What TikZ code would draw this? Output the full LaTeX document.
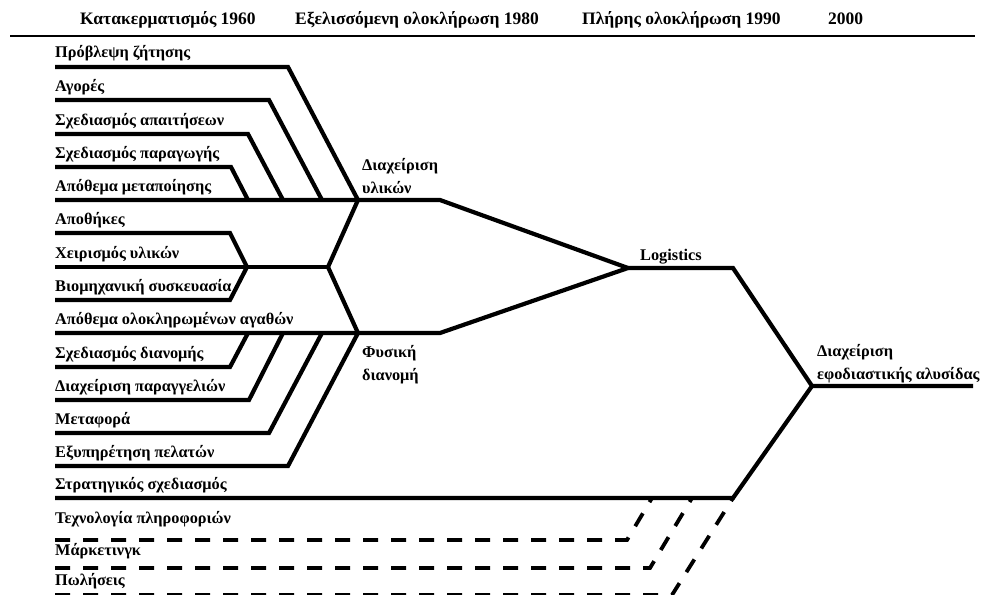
\documentclass[tikz,border=0pt]{standalone}
\usepackage{fontspec}
\setmainfont{Liberation Serif}
\tikzset{
  branch/.style={line width=4.2pt, line join=miter},
  side/.style={line width=3.8pt, dash pattern=on 15pt off 13pt},
  lab/.style={anchor=base west, inner sep=0pt, align=left,
    font=\fontsize{16.3}{22.5}\selectfont\bfseries},
  period/.style={lab, font=\fontsize{17.5}{21}\selectfont\bfseries},
}
\begin{document}
\begin{tikzpicture}[x=1pt, y=-1pt]
    \useasboundingbox (0,0) rectangle (990,594);
    % periods
    \node[period] (p60) at (80,25) {Κατακερματισμός 1960};
    \node[period] (p80) at (295,25) {Εξελισσόμενη ολοκλήρωση 1980};
    \node[period] (p90) at (582,25) {Πλήρης ολοκλήρωση 1990};
    \node[period] (p00) at (828,25) {2000};
    \coordinate (hl) at (10,36);
    \coordinate (hr) at (975,36);
    \draw[line width=1.4pt] (hl) -- (hr);
    % junctions
    \coordinate (mu) at (358,200);
    \coordinate (mur) at (440,200);
    \coordinate (mid) at (328,267);
    \coordinate (ml) at (247,267);
    \coordinate (fd) at (358,333);
    \coordinate (fdr) at (440,333);
    \coordinate (lg) at (628,268);
    \coordinate (lgr) at (733,268);
    \coordinate (sc) at (812,386);
    \coordinate (scr) at (973,386);
    \coordinate (ssr) at (733,498);
    % materials management
    \node[lab] (pz) at (55,58) {Πρόβλεψη ζήτησης};
    \node[lab] (ag) at (55,91) {Αγορές};
    \node[lab] (sa) at (55,125) {Σχεδιασμός απαιτήσεων};
    \node[lab] (sp) at (55,158) {Σχεδιασμός παραγωγής};
    \node[lab] (am) at (55,191) {Απόθεμα μεταποίησης};
    \coordinate (pz0) at (55,67);   \coordinate (pz1) at (288,67);
    \coordinate (ag0) at (55,100);  \coordinate (ag1) at (269,100); \coordinate (ag2) at (322,200);
    \coordinate (sa0) at (55,134);  \coordinate (sa1) at (248,134); \coordinate (sa2) at (283,200);
    \coordinate (sp0) at (55,167);  \coordinate (sp1) at (231,167); \coordinate (sp2) at (248,200);
    \coordinate (am0) at (55,200);
    \draw[branch] (pz0) -- (pz1) -- (mu);
    \draw[branch] (ag0) -- (ag1) -- (ag2);
    \draw[branch] (sa0) -- (sa1) -- (sa2);
    \draw[branch] (sp0) -- (sp1) -- (sp2);
    \draw[branch] (am0) -- (mu) -- (mur) -- (lg);
    \node[lab] (dul) at (362,193) {Διαχείριση\\υλικών};
    % middle group
    \node[lab] (ap) at (55,224) {Αποθήκες};
    \node[lab] (xy) at (55,258) {Χειρισμός υλικών};
    \node[lab] (bs) at (55,291) {Βιομηχανική συσκευασία};
    \coordinate (ap0) at (55,233);  \coordinate (ap1) at (230,233);
    \coordinate (xy0) at (55,267);
    \coordinate (bs0) at (55,300);  \coordinate (bs1) at (230,300);
    \draw[branch] (ap0) -- (ap1) -- (ml);
    \draw[branch] (bs0) -- (bs1) -- (ml);
    \draw[branch] (xy0) -- (mid);
    \draw[branch] (mu) -- (mid) -- (fd);
    % physical distribution
    \node[lab] (ao) at (55,324) {Απόθεμα ολοκληρωμένων αγαθών};
    \node[lab] (sd) at (55,358) {Σχεδιασμός διανομής};
    \node[lab] (dp) at (55,391) {Διαχείριση παραγγελιών};
    \node[lab] (mt) at (55,424) {Μεταφορά};
    \node[lab] (ep) at (55,457) {Εξυπηρέτηση πελατών};
    \coordinate (ao0) at (55,333);
    \coordinate (sd0) at (55,367);  \coordinate (sd1) at (230,367); \coordinate (sd2) at (248,333);
    \coordinate (dp0) at (55,400);  \coordinate (dp1) at (249,400); \coordinate (dp2) at (283,333);
    \coordinate (mt0) at (55,433);  \coordinate (mt1) at (269,433); \coordinate (mt2) at (322,333);
    \coordinate (ep0) at (55,466);  \coordinate (ep1) at (288,466);
    \draw[branch] (ao0) -- (fd) -- (fdr) -- (lg);
    \draw[branch] (sd0) -- (sd1) -- (sd2);
    \draw[branch] (dp0) -- (dp1) -- (dp2);
    \draw[branch] (mt0) -- (mt1) -- (mt2);
    \draw[branch] (ep0) -- (ep1) -- (fd);
    \node[lab] (fdl) at (362,380) {Φυσική\\διανομή};
    % logistics and supply chain
    \node[lab] (lgl) at (640,260) {Logistics};
    \draw[branch] (lg) -- (lgr) -- (sc) -- (scr);
    \node[lab] (scl) at (817,379) {Διαχείριση\\εφοδιαστικής αλυσίδας};
    \node[lab] (ss) at (55,489) {Στρατηγικός σχεδιασμός};
    \coordinate (ss0) at (55,498);
    \draw[branch] (ss0) -- (ssr) -- (sc);
    % other functions
    \node[lab] (tp) at (55,523) {Τεχνολογία πληροφοριών};
    \node[lab] (mk) at (55,555) {Μάρκετινγκ};
    \node[lab] (pl) at (55,585) {Πωλήσεις};
    \coordinate (tp0) at (55,540);  \coordinate (tp1) at (627,540); \coordinate (tp2) at (652,498);
    \coordinate (mk0) at (55,568);  \coordinate (mk1) at (650,568); \coordinate (mk2) at (692,498);
    \coordinate (pl0) at (55,595);  \coordinate (pl1) at (672,595);
    \draw[side] (tp0) -- (tp1) -- (tp2);
    \draw[side] (mk0) -- (mk1) -- (mk2);
    \draw[side] (pl0) -- (pl1) -- (ssr);
\end{tikzpicture}
\end{document}
